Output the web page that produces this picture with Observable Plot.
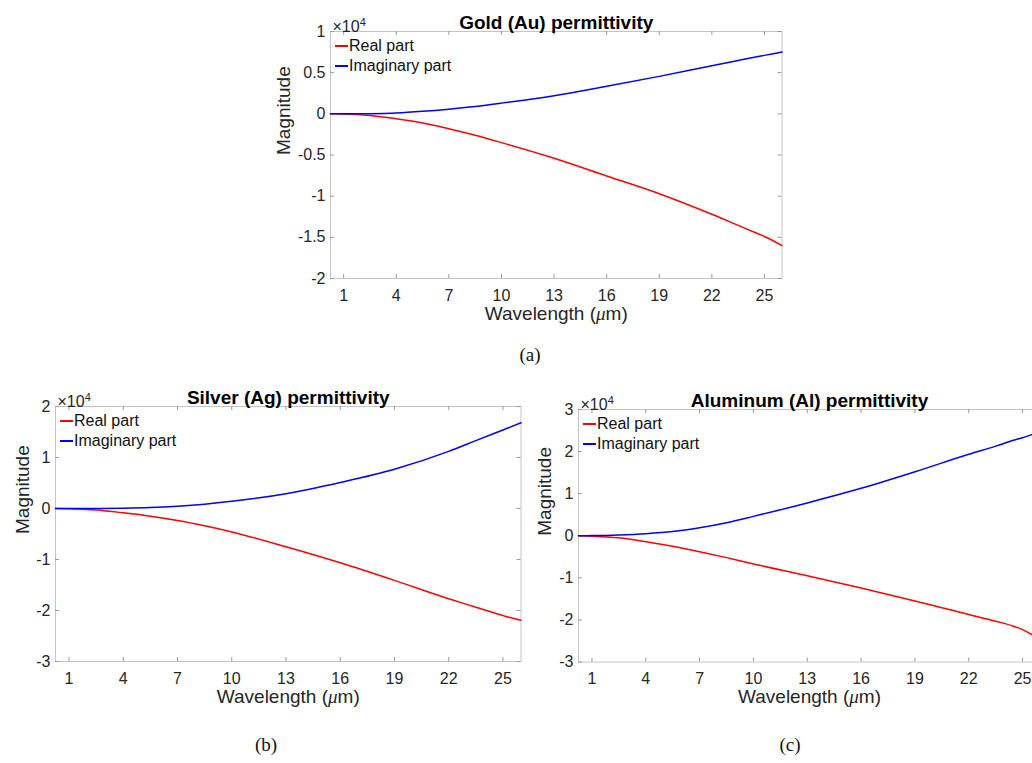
<!DOCTYPE html>
<html>
<head>
<meta charset="utf-8">
<script src="https://cdn.jsdelivr.net/npm/d3@7"></script>
<script src="https://cdn.jsdelivr.net/npm/@observablehq/plot@0.6"></script>
<style>
  html, body { margin: 0; padding: 0; background: #fff; }
  #root { position: relative; width: 1032px; height: 763px; overflow: hidden; background: #fff; }
  .panel { position: absolute; }
  .panel svg { max-width: none !important; display: block; }
  .legend { position: absolute; font-family: "Liberation Sans", Arial, sans-serif; font-size: 16px; color: #111; line-height: 20px; z-index: 5; }
  .legend .row { display: flex; align-items: center; white-space: nowrap; }
  .legend .sw { display: inline-block; flex: none; width: 13px; height: 2px; margin-right: 1px; }
  .cap { position: absolute; font-family: "Liberation Serif", "DejaVu Serif", serif; font-size: 19px; color: #111; transform: translate(-50%, -50%); }
</style>
</head>
<body>
<div id="root"></div>
<script>
// ---- data (values in units of 10^4) ----
const wavelength = [0.25, 1, 2.5, 4, 5.5, 7, 8.5, 10, 13, 16, 19, 22, 23.5, 24.5, 25, 26];

const goldReal = [0, -0.002, -0.02, -0.06, -0.11, -0.18, -0.26, -0.35, -0.54, -0.755, -0.97, -1.22, -1.355, -1.445, -1.49, -1.6];
const goldImag = [0, 0, 0.002, 0.01, 0.03, 0.057, 0.09, 0.13, 0.22, 0.335, 0.455, 0.585, 0.648, 0.69, 0.71, 0.75];

const silverReal = [0, -0.003, -0.03, -0.085, -0.15, -0.235, -0.34, -0.46, -0.75, -1.065, -1.41, -1.77, -1.935, -2.045, -2.10, -2.19];
const silverImag = [0, 0, 0.001, 0.007, 0.02, 0.046, 0.085, 0.14, 0.29, 0.51, 0.77, 1.12, 1.33, 1.47, 1.54, 1.68];

const alReal = [0, -0.01, -0.05, -0.14, -0.25, -0.38, -0.52, -0.67, -0.95, -1.24, -1.55, -1.87, -2.03, -2.15, -2.23, -2.48];
const alImag = [0, 0.003, 0.02, 0.05, 0.10, 0.19, 0.31, 0.46, 0.78, 1.127, 1.52, 1.935, 2.13, 2.27, 2.33, 2.48];

const xTicks = [1, 4, 7, 10, 13, 16, 19, 22, 25];
const goldYTicks = [-2, -1.5, -1, -0.5, 0, 0.5, 1];
const silverYTicks = [-3, -2, -1, 0, 1, 2];
const alYTicks = [-3, -2, -1, 0, 1, 2, 3];

const seriesNames = ["Real part", "Imaginary part"];
const seriesColors = ["#ff0000", "#0000ff"];
const xLabel = "Wavelength (μm)";
const yLabel = "Magnitude";

const root = document.getElementById("root");

function panel({frameLeft, frameRight, frameTop, frameBottom, yDomain, yTicks, yLabelOffset, title, real, imag, caption, capX, capY}) {
  const mL = 70, mR = 10, mT = 35, mB = 55;
  const innerW = frameRight - frameLeft, innerH = frameBottom - frameTop;
  const rows = [];
  wavelength.forEach((w, i) => {
    rows.push({w, v: real[i], s: seriesNames[0]});
    rows.push({w, v: imag[i], s: seriesNames[1]});
  });
  const svg = Plot.plot({
    width: innerW + mL + mR,
    height: innerH + mT + mB,
    marginLeft: mL, marginRight: mR, marginTop: mT, marginBottom: mB,
    style: {fontFamily: "'Liberation Sans', Arial, sans-serif", fontSize: "16px", color: "#262626", background: "transparent", overflow: "visible", maxWidth: "none"},
    x: {domain: [0.25, 26], axis: null},
    y: {domain: yDomain, axis: null},
    color: {domain: seriesNames, range: seriesColors},
    marks: [
      Plot.frame({stroke: "#c4c4c4"}),
      Plot.tickX(xTicks, {x: d => d, insetTop: innerH - 4, stroke: "#9a9a9a"}),
      Plot.tickX(xTicks, {x: d => d, insetBottom: innerH - 4, stroke: "#9a9a9a"}),
      Plot.tickY(yTicks, {y: d => d, insetRight: innerW - 4, stroke: "#9a9a9a"}),
      Plot.tickY(yTicks, {y: d => d, insetLeft: innerW - 4, stroke: "#9a9a9a"}),
      Plot.axisX(xTicks, {tickSize: 0, tickPadding: 11, label: null, fontSize: 16, fill: "#262626"}),
      Plot.axisY(yTicks, {tickSize: 0, tickPadding: 5, label: null, fontSize: 16, fill: "#262626", tickFormat: d => String(d)}),
      Plot.line(rows, {x: "w", y: "v", z: "s", stroke: "s", strokeWidth: 1.5, curve: "monotone-x"}),
      Plot.text([title], {frameAnchor: "top", dy: -16, fontWeight: "bold", fontSize: 19, fill: "#000"}),
      Plot.text([xLabel], {frameAnchor: "bottom", dy: 41, fontSize: 19, fill: "#262626"}),
      Plot.text([yLabel], {frameAnchor: "left", dx: -yLabelOffset, rotate: -90, fontSize: 19, fill: "#262626"}),
      Plot.text(["×10^4"], {frameAnchor: "top-left", dx: 2, dy: -11, textAnchor: "start", fontSize: 16, fill: "#262626"})
    ]
  });
  d3.select(svg).selectAll("text").each(function() {
    const t = this.textContent;
    if (t === "×10^4") {
      this.textContent = "";
      d3.select(this).append("tspan").text("×10");
      d3.select(this).append("tspan").attr("dy", "-0.55em").attr("font-size", "11px").text("4");
    } else if (t === xLabel) {
      this.textContent = "";
      d3.select(this).append("tspan").text("Wavelength (");
      d3.select(this).append("tspan").attr("font-style", "italic").attr("font-family", "'Liberation Serif', serif").text("μ");
      d3.select(this).append("tspan").text("m)");
    }
  });
  const div = document.createElement("div");
  div.className = "panel";
  div.style.left = (frameLeft - mL) + "px";
  div.style.top = (frameTop - mT) + "px";
  div.style.width = (innerW + mL + mR) + "px";
  div.appendChild(svg);
  root.appendChild(div);

  const lg = document.createElement("div");
  lg.className = "legend";
  lg.style.left = Math.round(frameLeft + 5) + "px";
  lg.style.top = Math.round(frameTop + 5) + "px";
  seriesNames.forEach((n, i) => {
    const r = document.createElement("div");
    r.className = "row";
    const sw = document.createElement("span");
    sw.className = "sw";
    sw.style.backgroundColor = seriesColors[i];
    r.appendChild(sw);
    r.appendChild(document.createTextNode(n));
    lg.appendChild(r);
  });
  root.appendChild(lg);

  const cap = document.createElement("div");
  cap.className = "cap";
  cap.textContent = caption;
  cap.style.left = capX + "px";
  cap.style.top = capY + "px";
  root.appendChild(cap);
}

panel({frameLeft: 329.5, frameRight: 781, frameTop: 31, frameBottom: 278, yDomain: [-2, 1], yTicks: goldYTicks, yLabelOffset: 47,
  title: "Gold (Au) permittivity", real: goldReal, imag: goldImag, caption: "(a)", capX: 530, capY: 355});
panel({frameLeft: 54.5, frameRight: 520, frameTop: 406, frameBottom: 661, yDomain: [-3, 2], yTicks: silverYTicks, yLabelOffset: 33,
  title: "Silver (Ag) permittivity", real: silverReal, imag: silverImag, caption: "(b)", capX: 266, capY: 745});
panel({frameLeft: 578, frameRight: 1040, frameTop: 408.5, frameBottom: 661, yDomain: [-3, 3], yTicks: alYTicks, yLabelOffset: 34,
  title: "Aluminum (Al) permittivity", real: alReal, imag: alImag, caption: "(c)", capX: 790, capY: 745});
</script>
</body>
</html>
